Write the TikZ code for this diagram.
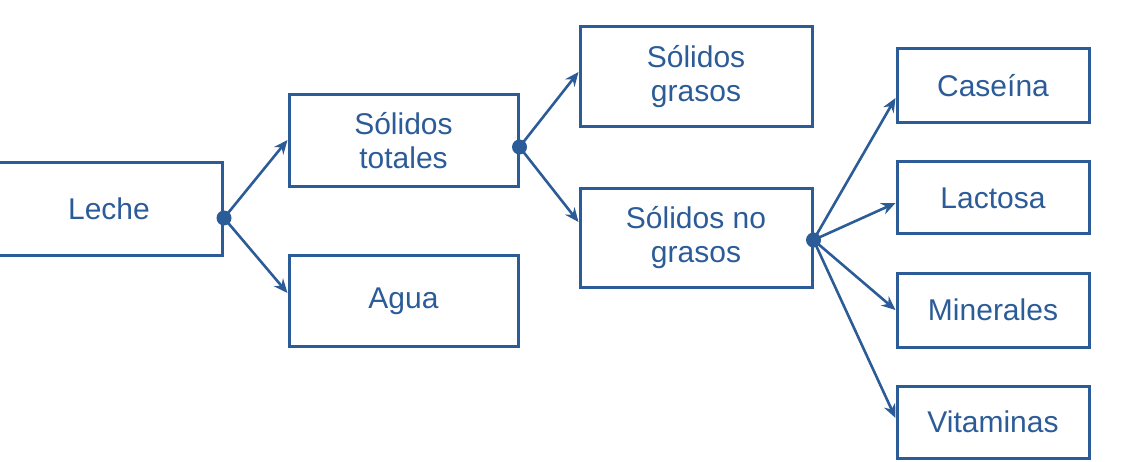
\documentclass[tikz,border=0pt]{standalone}
\usepackage{fontspec}
\setmainfont{Liberation Sans}
\usetikzlibrary{arrows.meta}
\definecolor{bl}{RGB}{44,92,152}
\tikzset{
  box/.style={draw=bl, line width=3pt, text=bl, align=center, inner sep=0pt,
    font=\fontsize{30}{34}\selectfont},
  dotn/.style={circle, fill=bl, inner sep=0pt, minimum size=15pt},
  conn/.style={draw=bl, line width=2.6pt, -{Stealth[length=14pt,width=12pt]}},
}
\begin{document}
\begin{tikzpicture}[x=1pt,y=-1pt]
\useasboundingbox (0,0) rectangle (1131,462);
\node[box, minimum width=227pt, minimum height=92pt] (leche) at (109,209) {Leche};
\node[box, minimum width=229pt, minimum height=92pt] (st) at (403.5,141) {Sólidos\\totales};
\node[box, minimum width=229pt, minimum height=91pt] (agua) at (403.5,301) {Agua};
\node[box, minimum width=232pt, minimum height=100pt] (sg) at (696,77) {Sólidos\\grasos};
\node[box, minimum width=232pt, minimum height=98pt] (sng) at (696,238) {Sólidos no\\grasos};
\node[box, minimum width=192pt, minimum height=74pt] (cas) at (993,86) {Caseína};
\node[box, minimum width=192pt, minimum height=72pt] (lac) at (993,198) {Lactosa};
\node[box, minimum width=192pt, minimum height=74pt] (min) at (993,310) {Minerales};
\node[box, minimum width=192pt, minimum height=72pt] (vit) at (993,422) {Vitaminas};
\node[dotn] (d1) at ([yshift=-9pt]leche.east) {};
\node[dotn] (d2) at ([yshift=-6pt]st.east) {};
\node[dotn] (d3) at ([yshift=-2pt]sng.east) {};
\draw[conn] (d1.center) -- (st.west |- 0,140);
\draw[conn] (d1.center) -- (agua.west |- 0,293);
\draw[conn] (d2.center) -- (sg.west |- 0,72);
\draw[conn] (d2.center) -- (sng.west |- 0,222);
\draw[conn] (d3.center) -- (cas.west |- 0,98);
\draw[conn] (d3.center) -- (lac.west |- 0,203);
\draw[conn] (d3.center) -- (min.west |- 0,310);
\draw[conn] (d3.center) -- (vit.west |- 0,418);
\end{tikzpicture}
\end{document}
